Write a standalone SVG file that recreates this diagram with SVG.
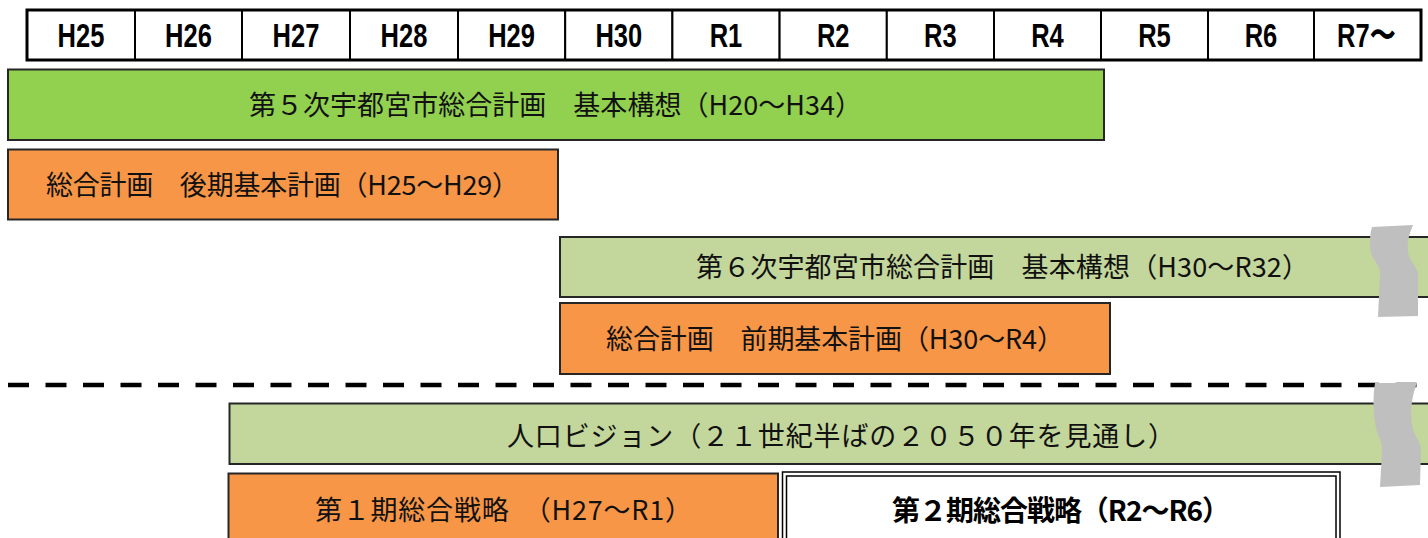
<svg xmlns="http://www.w3.org/2000/svg" width="1428" height="538" viewBox="0 0 1428 538">
<style>
.hd{fill:#fff;stroke:#000;stroke-width:2}
.ht{font-family:"Liberation Sans",Arial,sans-serif;font-weight:bold;font-size:34px;fill:#000;text-anchor:middle}
.bar{stroke:#262626;stroke-width:2}
.g1{fill:#92D050}
.g2{fill:#C3D69B}
.or{fill:#F79646}
.jt{font-family:"Noto Sans CJK JP","Noto Sans CJK SC",sans-serif;font-size:27px;fill:#111}
.jb{font-family:"Noto Sans CJK JP","Noto Sans CJK SC",sans-serif;font-size:28px;font-weight:bold;fill:#000}
.brk{fill:#BFBFBF}
</style>
<rect width="1428" height="538" fill="#fff"/>
<g id="header">
  <g id="h-H25"><rect class="hd" x="27" y="10" width="108" height="50"/><text class="ht" transform="translate(81,47) scale(0.75,1)">H25</text></g>
  <g id="h-H26"><rect class="hd" x="135" y="10" width="107" height="50"/><text class="ht" transform="translate(188.5,47) scale(0.75,1)">H26</text></g>
  <g id="h-H27"><rect class="hd" x="242" y="10" width="108" height="50"/><text class="ht" transform="translate(296,47) scale(0.75,1)">H27</text></g>
  <g id="h-H28"><rect class="hd" x="350" y="10" width="108" height="50"/><text class="ht" transform="translate(404,47) scale(0.75,1)">H28</text></g>
  <g id="h-H29"><rect class="hd" x="458" y="10" width="107.2" height="50"/><text class="ht" transform="translate(511.6,47) scale(0.75,1)">H29</text></g>
  <g id="h-H30"><rect class="hd" x="565.2" y="10" width="107.2" height="50"/><text class="ht" transform="translate(618.8,47) scale(0.75,1)">H30</text></g>
  <g id="h-R1"><rect class="hd" x="672.4" y="10" width="107.2" height="50"/><text class="ht" transform="translate(726,47) scale(0.75,1)">R1</text></g>
  <g id="h-R2"><rect class="hd" x="779.6" y="10" width="107.2" height="50"/><text class="ht" transform="translate(833.2,47) scale(0.75,1)">R2</text></g>
  <g id="h-R3"><rect class="hd" x="886.8" y="10" width="107.2" height="50"/><text class="ht" transform="translate(940.4,47) scale(0.75,1)">R3</text></g>
  <g id="h-R4"><rect class="hd" x="994" y="10" width="107" height="50"/><text class="ht" transform="translate(1047.5,47) scale(0.75,1)">R4</text></g>
  <g id="h-R5"><rect class="hd" x="1101" y="10" width="107" height="50"/><text class="ht" transform="translate(1154.5,47) scale(0.75,1)">R5</text></g>
  <g id="h-R6"><rect class="hd" x="1208" y="10" width="106" height="50"/><text class="ht" transform="translate(1261,47) scale(0.75,1)">R6</text></g>
  <g id="h-R7"><rect class="hd" x="1314" y="10" width="107" height="50"/><text class="ht" transform="translate(1366,47) scale(0.75,1)">R7〜</text></g>
  <rect x="27" y="10" width="1394" height="50" fill="none" stroke="#000" stroke-width="3"/>
</g>
<g id="divider">
  <line x1="8" y1="385" x2="1428" y2="385" stroke="#000" stroke-width="4.5" stroke-dasharray="21 16.5"/>
</g>
<g id="connectors"></g>
<g id="plan5">
  <rect class="bar g1" x="8" y="69.5" width="1096" height="70.5"/>
  <text class="jt" x="249" y="115" textLength="613">第５次宇都宮市総合計画　基本構想（H20〜H34）</text>
</g>
<g id="plan5-late">
  <rect class="bar or" x="8" y="149.5" width="550" height="70"/>
  <text class="jt" x="46" y="195" textLength="473">総合計画　後期基本計画（H25〜H29）</text>
</g>
<g id="plan6">
  <rect class="bar g2" x="560" y="237" width="880" height="60"/>
  <text class="jt" x="696" y="277" textLength="613">第６次宇都宮市総合計画　基本構想（H30〜R32）</text>
</g>
<g id="plan6-early">
  <rect class="bar or" x="560" y="303" width="550" height="71"/>
  <text class="jt" x="606" y="349" textLength="458">総合計画　前期基本計画（H30〜R4）</text>
</g>
<g id="vision">
  <rect class="bar g2" x="229.5" y="403.5" width="1210" height="60.5"/>
  <text class="jt" x="507" y="446" textLength="668">人口ビジョン（２１世紀半ばの２０５０年を見通し）</text>
</g>
<g id="strategy1">
  <rect class="bar or" x="228.5" y="473.5" width="549.5" height="90"/>
  <text class="jt" x="315" y="520" textLength="377">第１期総合戦略　（H27〜R1）</text>
</g>
<g id="strategy2">
  <rect x="782.5" y="472" width="557.5" height="90" fill="#fff" stroke="#000" stroke-width="1.5"/>
  <rect x="786.5" y="476" width="549.5" height="90" fill="none" stroke="#000" stroke-width="1.5"/>
  <text class="jb" x="892" y="521" textLength="338">第２期総合戦略（R2〜R6）</text>
</g>
<g id="breaks">
  <path class="brk" d="M1372,227 C1369,238 1369,250 1373,258 C1377,264 1381,268 1380,275 L1378,317 L1418,316 L1418,275 C1418,268 1412,264 1409,256 C1406,248 1408,236 1413,225 Z"/>
  <path class="brk" d="M1375,383 C1372,400 1374,420 1377,432 C1380,440 1383,445 1382,452 L1380,487 L1420,485 L1421,450 C1421,442 1414,436 1412,425 C1410,410 1412,395 1417,383 Z"/>
</g>
</svg>
